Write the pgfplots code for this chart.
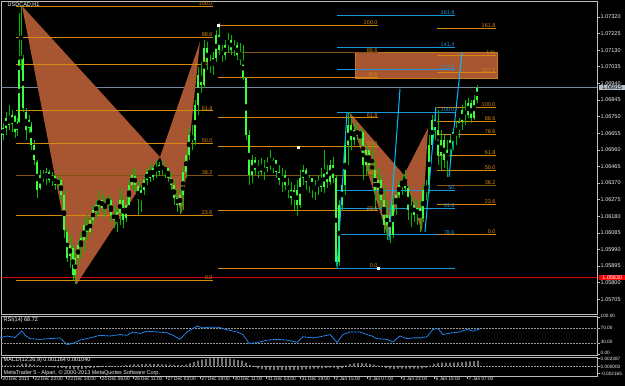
\documentclass[border=0pt]{standalone}
\usepackage{fontspec}
\setmainfont{Liberation Sans}
\usepackage{pgfplots}
\usepackage{pgfplotstable}
\pgfplotsset{compat=1.18}
\definecolor{fibo}{RGB}{215,135,15}
\definecolor{fibodark}{RGB}{130,85,20}
\definecolor{fibblue}{RGB}{30,150,220}
\definecolor{zz}{RGB}{0,190,255}
\definecolor{pat}{RGB}{168,86,50}
\definecolor{cwick}{RGB}{0,185,0}
\definecolor{cbody}{RGB}{60,255,60}
\definecolor{frame}{RGB}{190,190,190}
\definecolor{rsiblue}{RGB}{30,130,230}
\definecolor{bidgray}{RGB}{120,136,153}
\newcommand\lab{\fontsize{5.5}{6.5}\selectfont}
\newcommand\tlab{\fontsize{4.7}{5.5}\selectfont}

\pgfplotstableread{
x h l o c
3 1.06714 1.06616 1.06645 1.06685
6 1.06777 1.06645 1.06685 1.06742
9 1.06816 1.06673 1.06742 1.06702
12 1.06788 1.06662 1.06708 1.06759
15 1.06759 1.06627 1.06754 1.06662
17 1.06742 1.06639 1.06673 1.06719
19 1.07343 1.06714 1.06719 1.07074
21 1.07383 1.07017 1.07074 1.07102
23 1.07102 1.06777 1.07085 1.06799
26 1.06799 1.06616 1.06777 1.06673
29 1.06759 1.06645 1.06685 1.06731
31 1.06719 1.06559 1.06708 1.06588
34 1.06616 1.06473 1.06588 1.06502
37 1.06502 1.06285 1.06491 1.06330
40 1.06445 1.06330 1.06342 1.06416
43 1.06445 1.06376 1.06416 1.06399
46 1.06456 1.06359 1.06399 1.06434
49 1.06445 1.06370 1.06434 1.06387
52 1.06434 1.06353 1.06387 1.06410
55 1.06422 1.06330 1.06410 1.06359
58 1.06410 1.06342 1.06365 1.06387
61 1.06399 1.06273 1.06387 1.06302
64 1.06330 1.06056 1.06302 1.06101
67 1.06113 1.05919 1.06090 1.05941
70 1.06073 1.05884 1.05953 1.06016
73 1.06016 1.05815 1.05999 1.05844
75 1.05987 1.05792 1.05844 1.05941
78 1.06044 1.05902 1.05941 1.06016
81 1.06090 1.05941 1.06004 1.06056
84 1.06170 1.05976 1.06044 1.06130
87 1.06188 1.06044 1.06130 1.06090
90 1.06176 1.06072 1.06090 1.06159
93 1.06244 1.06130 1.06159 1.06216
96 1.06273 1.06170 1.06205 1.06244
99 1.06330 1.06188 1.06239 1.06273
102 1.06302 1.06205 1.06273 1.06227
105 1.06290 1.06176 1.06233 1.06256
108 1.06302 1.06216 1.06256 1.06285
111 1.06285 1.06148 1.06273 1.06188
114 1.06244 1.06113 1.06193 1.06159
117 1.06227 1.06090 1.06148 1.06205
120 1.06342 1.06130 1.06199 1.06273
123 1.06302 1.06113 1.06273 1.06159
126 1.06285 1.06148 1.06170 1.06244
129 1.06387 1.06244 1.06244 1.06359
132 1.06445 1.06330 1.06359 1.06416
135 1.06456 1.06319 1.06410 1.06359
138 1.06387 1.06188 1.06353 1.06273
141 1.06359 1.06205 1.06273 1.06330
144 1.06416 1.06302 1.06330 1.06387
147 1.06456 1.06359 1.06387 1.06434
150 1.06485 1.06376 1.06434 1.06399
153 1.06473 1.06387 1.06405 1.06456
156 1.06502 1.06399 1.06456 1.06434
159 1.06491 1.06410 1.06434 1.06473
162 1.06502 1.06416 1.06468 1.06445
165 1.06473 1.06399 1.06445 1.06456
168 1.06456 1.06376 1.06456 1.06399
171 1.06434 1.06330 1.06399 1.06359
174 1.06387 1.06244 1.06359 1.06285
177 1.06330 1.06205 1.06285 1.06244
180 1.06342 1.06193 1.06244 1.06302
183 1.06462 1.06216 1.06302 1.06434
186 1.06559 1.06399 1.06434 1.06530
189 1.06685 1.06502 1.06530 1.06645
192 1.06702 1.06559 1.06645 1.06616
195 1.06845 1.06588 1.06616 1.06816
198 1.07034 1.06759 1.06816 1.06988
201 1.07063 1.06885 1.06988 1.06931
204 1.07188 1.06914 1.06931 1.07142
207 1.07177 1.07017 1.07142 1.07063
210 1.07102 1.06999 1.07063 1.07045
213 1.07120 1.06988 1.07045 1.07085
216 1.07245 1.07063 1.07085 1.07216
219 1.07286 1.07102 1.07216 1.07131
222 1.07160 1.07063 1.07131 1.07102
225 1.07188 1.07074 1.07102 1.07160
228 1.07228 1.07120 1.07160 1.07188
231 1.07216 1.07102 1.07188 1.07131
234 1.07188 1.07097 1.07131 1.07160
237 1.07177 1.07074 1.07160 1.07102
240 1.07171 1.07045 1.07102 1.07074
243 1.07160 1.06959 1.07074 1.06977
246 1.06977 1.06616 1.06971 1.06645
249 1.06673 1.06359 1.06645 1.06416
252 1.06530 1.06370 1.06416 1.06502
255 1.06519 1.06416 1.06502 1.06445
258 1.06502 1.06399 1.06445 1.06473
261 1.06513 1.06416 1.06473 1.06434
264 1.06502 1.06387 1.06434 1.06456
267 1.06519 1.06434 1.06456 1.06491
270 1.06559 1.06445 1.06491 1.06473
273 1.06513 1.06428 1.06473 1.06502
276 1.06502 1.06399 1.06502 1.06434
279 1.06473 1.06359 1.06434 1.06387
282 1.06456 1.06319 1.06387 1.06416
285 1.06445 1.06330 1.06416 1.06359
288 1.06399 1.06285 1.06359 1.06330
291 1.06376 1.06244 1.06330 1.06285
294 1.06359 1.06216 1.06285 1.06330
297 1.06387 1.06182 1.06330 1.06244
300 1.06445 1.06227 1.06244 1.06399
303 1.06473 1.06359 1.06399 1.06445
306 1.06456 1.06330 1.06445 1.06376
309 1.06416 1.06313 1.06376 1.06399
312 1.06399 1.06285 1.06399 1.06330
315 1.06387 1.06273 1.06330 1.06359
318 1.06416 1.06302 1.06359 1.06387
321 1.06456 1.06319 1.06387 1.06347
324 1.06559 1.06313 1.06347 1.06434
327 1.06473 1.06342 1.06434 1.06376
330 1.06502 1.06359 1.06376 1.06473
333 1.06519 1.06370 1.06473 1.06399
336 1.06416 1.05896 1.06399 1.05919
339 1.06273 1.05896 1.05919 1.06244
342 1.06399 1.06216 1.06244 1.06359
345 1.06616 1.06302 1.06359 1.06588
348 1.06777 1.06473 1.06588 1.06702
351 1.06742 1.06559 1.06702 1.06616
354 1.06719 1.06588 1.06616 1.06673
357 1.06702 1.06616 1.06673 1.06645
360 1.06685 1.06588 1.06645 1.06662
363 1.06673 1.06387 1.06662 1.06473
366 1.06588 1.06416 1.06473 1.06559
369 1.06559 1.06434 1.06559 1.06473
372 1.06605 1.06387 1.06473 1.06445
375 1.06502 1.06216 1.06445 1.06330
378 1.06456 1.06256 1.06330 1.06387
381 1.06416 1.06216 1.06387 1.06273
384 1.06359 1.06084 1.06273 1.06130
387 1.06273 1.06044 1.06130 1.06188
390 1.06244 1.06027 1.06188 1.06073
393 1.06285 1.06056 1.06073 1.06244
396 1.06330 1.06188 1.06244 1.06302
399 1.06387 1.06285 1.06302 1.06359
402 1.06416 1.06302 1.06359 1.06387
405 1.06445 1.06319 1.06387 1.06342
408 1.06359 1.06159 1.06342 1.06216
411 1.06302 1.06119 1.06216 1.06244
414 1.06285 1.06148 1.06244 1.06188
417 1.06273 1.06130 1.06188 1.06227
420 1.06273 1.06090 1.06227 1.06170
423 1.06359 1.06148 1.06170 1.06330
426 1.06387 1.06273 1.06330 1.06359
429 1.06645 1.06313 1.06359 1.06588
432 1.06759 1.06559 1.06588 1.06731
435 1.06805 1.06616 1.06731 1.06673
438 1.06788 1.06473 1.06673 1.06530
441 1.06673 1.06445 1.06530 1.06616
444 1.06645 1.06456 1.06616 1.06502
447 1.06616 1.06405 1.06502 1.06559
450 1.06645 1.06502 1.06559 1.06616
453 1.06685 1.06559 1.06616 1.06662
456 1.06719 1.06588 1.06662 1.06685
459 1.06742 1.06628 1.06685 1.06719
462 1.06816 1.06673 1.06719 1.06788
465 1.06845 1.06702 1.06788 1.06759
468 1.06856 1.06742 1.06759 1.06828
471 1.06845 1.06714 1.06828 1.06742
474 1.06874 1.06731 1.06742 1.06845
477 1.06931 1.06828 1.06845 1.06914
}\candles

\pgfplotstableread{
x r
0 45
7 50
15 46
22 64
25 52
30 43
40 41
50 43
60 45
67 27
73 30
80 39
90 45
100 52
110 50
120 54
127 52
133 61
140 57
147 63
157 61
167 59
173 52
180 41
187 61
197 77
203 72
210 74
218 74
227 67
237 61
243 54
249 30
257 32
267 39
277 41
287 39
297 33
303 48
313 45
320 48
327 52
330 54
337 33
343 54
350 61
360 61
367 54
372 50
377 43
387 41
393 34
400 50
407 43
413 45
420 45
427 48
433 68
438 70
443 54
450 58
460 61
467 68
473 63
477 67
480 69
}\rsi

\pgfplotstableread{
x m
2 0.0002
6 0.0002
10 0.0001
14 0.0001
18 0.0003
22 0.0006
26 0.0007
30 0.0006
34 0.0004
38 0.0002
42 0.00005
46 -0.0002
50 -0.0003
54 -0.0004
58 -0.0005
62 -0.0006
66 -0.0008
70 -0.0009
74 -0.0010
78 -0.0010
82 -0.0009
86 -0.0008
90 -0.0006
94 -0.0005
98 -0.0004
102 -0.0003
106 -0.0002
110 -0.0002
114 -0.0001
118 -0.0001
122 0.0001
126 0.0003
130 0.0004
134 0.0005
138 0.0005
142 0.0006
146 0.0006
150 0.0006
154 0.0006
158 0.0006
162 0.0005
166 0.0005
170 0.0004
174 0.0003
178 0.0003
182 0.0003
186 0.0004
190 0.0008
194 0.0012
198 0.0016
202 0.0019
206 0.0021
210 0.0023
214 0.0024
218 0.0024
222 0.0024
226 0.0023
230 0.0022
234 0.0020
238 0.0018
242 0.0016
246 0.0010
250 0.0003
254 -0.0003
258 -0.0007
262 -0.0009
266 -0.0011
270 -0.0012
274 -0.0012
278 -0.0012
282 -0.0012
286 -0.0012
290 -0.0012
294 -0.0012
298 -0.0012
302 -0.0011
306 -0.0010
310 -0.0009
314 -0.0008
318 -0.0008
322 -0.0007
326 -0.0006
330 -0.0005
334 -0.0005
338 -0.0009
342 -0.0006
346 0.0002
350 0.0006
354 0.0008
358 0.0009
362 0.0009
366 0.0008
370 0.0006
374 0.0004
378 0.0001
382 -0.0003
386 -0.0006
390 -0.0008
394 -0.0009
398 -0.0008
402 -0.0008
406 -0.0008
410 -0.0008
414 -0.0008
418 -0.0008
422 -0.0007
426 -0.0005
430 0.0001
434 0.0006
438 0.0009
442 0.0010
446 0.0010
450 0.0010
454 0.0010
458 0.0011
462 0.0012
466 0.0013
470 0.0014
474 0.0015
478 0.0016
}\macd

\pgfplotsset{
  mt/.style={scale only axis, width=596pt, xmin=1, xmax=597,
    axis line style={frame, line width=0.8pt},
    tick style={frame, line width=0.6pt},
    tick align=outside, major tick length=2.5pt,
    ytick pos=right, yticklabel pos=right,
    scaled y ticks=false, scaled x ticks=false,
    xtick=\empty,
    yticklabel style={font=\lab, text=white!88!gray, inner sep=1pt},
    clip=false},
}
\tikzset{
  fl/.style={anchor=south east, inner sep=0.3pt, font=\lab, text=fibo},
  bl/.style={anchor=south east, inner sep=0.3pt, font=\lab, text=fibblue},
}

\begin{document}
\begin{tikzpicture}[x=1pt,y=1pt]
\useasboundingbox (0,0) rectangle (625,-386);
\fill[black] (0,0) rectangle (625,-386);

% ---------------- main price panel ----------------
\begin{axis}[mt, at={(1pt,-1pt)}, anchor=north west, height=313pt,
  ymin=1.05621, ymax=1.07411,
  ytick={1.05705,1.05800,1.05895,1.05990,1.06085,1.06180,1.06275,1.06370,1.06465,1.06560,1.06655,1.06750,1.06845,1.06940,1.07035,1.07130,1.07225,1.07320},
  yticklabels={1.05705,1.05800,1.05895,1.05990,1.06085,1.06180,1.06275,1.06370,1.06465,1.06560,1.06655,1.06750,1.06845,1.06940,1.07035,1.07130,1.07225,1.07320}]

% bid / ask lines
\addplot[bidgray, line width=0.6pt] coordinates {(1,1.06915)(597,1.06915)};
\addplot[red!85!black, line width=0.6pt] coordinates {(1,1.05830)(597,1.05830)};

% rectangle and harmonic triangles
\addplot[fill=pat, draw=fibo!70!pat, line width=0.6pt] coordinates {(355,1.07120)(497,1.07120)(497,1.06971)(355,1.06971)} -- cycle;
\addplot[fill=pat, draw=none] coordinates {(22,1.07383)(76,1.05787)(160,1.06519)} -- cycle;
\addplot[fill=pat, draw=none] coordinates {(160,1.06519)(182,1.06193)(200,1.07177)} -- cycle;
\addplot[fill=pat, draw=none] coordinates {(349,1.06777)(388,1.06056)(404,1.06416)} -- cycle;
\addplot[fill=pat, draw=none] coordinates {(404,1.06416)(422,1.06090)(428,1.06685)} -- cycle;

% left fibo
\addplot[fibo, line width=0.7pt] coordinates {(16,1.07383)(213,1.07383)};
\addplot[fibo, line width=0.7pt] coordinates {(16,1.07204)(213,1.07204)};
\addplot[fibo, line width=0.7pt] coordinates {(16,1.07047)(213,1.07047)};
\addplot[fibo, line width=0.7pt] coordinates {(16,1.06784)(213,1.06784)};
\addplot[fibo, line width=0.7pt] coordinates {(16,1.06599)(213,1.06599)};
\addplot[fibodark, line width=0.7pt] coordinates {(16,1.06414)(213,1.06414)};
\addplot[fibo, line width=0.7pt] coordinates {(16,1.06185)(213,1.06185)};
\addplot[fibo, line width=0.7pt] coordinates {(16,1.05815)(213,1.05815)};
% middle fibo
\addplot[fibo, line width=0.7pt] coordinates {(218,1.07274)(378,1.07274)};
\addplot[fibodark, line width=0.7pt] coordinates {(218,1.07116)(378,1.07116)};
\addplot[fibo, line width=0.7pt] coordinates {(218,1.06977)(378,1.06977)};
\addplot[fibo, line width=0.7pt] coordinates {(218,1.06743)(378,1.06743)};
\addplot[fibo, line width=0.7pt] coordinates {(218,1.06579)(378,1.06579)};
\addplot[fibodark, line width=0.7pt] coordinates {(218,1.06415)(378,1.06415)};
\addplot[fibo, line width=0.7pt] coordinates {(218,1.06212)(378,1.06212)};
\addplot[fibo, line width=0.7pt] coordinates {(218,1.05884)(378,1.05884)};
% blue fibo
\addplot[fibblue, line width=0.7pt] coordinates {(337,1.07328)(455,1.07328)};
\addplot[fibblue, line width=0.7pt] coordinates {(337,1.07146)(455,1.07146)};
\addplot[fibblue, line width=0.7pt] coordinates {(337,1.07019)(455,1.07019)};
\addplot[fibblue, line width=0.7pt] coordinates {(337,1.06777)(455,1.06777)};
\addplot[fibblue, line width=0.7pt] coordinates {(337,1.06330)(455,1.06330)};
\addplot[fibblue, line width=0.7pt] coordinates {(337,1.06225)(455,1.06225)};
\addplot[fibblue, line width=0.7pt] coordinates {(337,1.06075)(455,1.06075)};
\addplot[fibblue, line width=0.7pt] coordinates {(337,1.05884)(455,1.05884)};
% right fibo
\addplot[fibo, line width=0.7pt] coordinates {(437,1.07254)(496,1.07254)};
\addplot[fibo, line width=0.7pt] coordinates {(437,1.07103)(496,1.07103)};
\addplot[fibo, line width=0.7pt] coordinates {(437,1.07002)(496,1.07002)};
\addplot[fibo, line width=0.7pt] coordinates {(437,1.06805)(496,1.06805)};
\addplot[fibo, line width=0.7pt] coordinates {(437,1.06722)(496,1.06722)};
\addplot[fibo, line width=0.7pt] coordinates {(437,1.06650)(496,1.06650)};
\addplot[fibo, line width=0.7pt] coordinates {(437,1.06528)(496,1.06528)};
\addplot[fibo, line width=0.7pt] coordinates {(437,1.06442)(496,1.06442)};
\addplot[fibodark, line width=0.7pt] coordinates {(437,1.06356)(496,1.06356)};
\addplot[fibo, line width=0.7pt] coordinates {(437,1.06250)(496,1.06250)};
\addplot[fibo, line width=0.7pt] coordinates {(437,1.06079)(496,1.06079)};

% candles: wicks then bodies
\addplot[only marks, mark=none, error bars/.cd, y dir=both, y explicit, error mark=none,
  error bar style={draw=cwick, line width=0.8pt}]
  table[x=x, y expr={0.5*(\thisrow{h}+\thisrow{l})}, y error expr={0.5*(\thisrow{h}-\thisrow{l})}] {\candles};
\addplot[only marks, mark=none, error bars/.cd, y dir=both, y explicit, error mark=none,
  error bar style={draw=cbody, line width=2.1pt}]
  table[x=x, y expr={0.5*(\thisrow{o}+\thisrow{c})}, y error expr={0.5*abs(\thisrow{o}-\thisrow{c})}] {\candles};

% projection lines
\addplot[zz, line width=1pt] coordinates {(337,1.05884)(347,1.06777)};
\addplot[zz, line width=1pt] coordinates {(389,1.06044)(400,1.06908)};
\addplot[zz, line width=1pt] coordinates {(425,1.06090)(436,1.06805)};
\addplot[zz, line width=1pt] coordinates {(449,1.06405)(462,1.07120)};
\addplot[only marks, mark=square*, mark size=1pt, white] coordinates {(218,1.07274)(298,1.06576)(378,1.05884)};

% labels
\node[anchor=north west, font=\lab, text=white, inner sep=0.5pt] at (axis cs:7,1.07405) {USDCAD,H1};
\node[fl] at (axis cs:213,1.07383) {100.0};
\node[fl] at (axis cs:213,1.07204) {88.6};
\node[fl] at (axis cs:213,1.07047) {78.6};
\node[fl] at (axis cs:213,1.06784) {61.8};
\node[fl] at (axis cs:213,1.06599) {50.0};
\node[fl] at (axis cs:213,1.06414) {38.2};
\node[fl] at (axis cs:213,1.06185) {23.6};
\node[fl] at (axis cs:213,1.05815) {0.0};
\node[fl] at (axis cs:378,1.07274) {100.0};
\node[fl] at (axis cs:378,1.07116) {88.6};
\node[fl] at (axis cs:378,1.06977) {78.6};
\node[fl] at (axis cs:378,1.06743) {61.8};
\node[fl] at (axis cs:378,1.06579) {50.0};
\node[fl] at (axis cs:378,1.06415) {38.2};
\node[fl] at (axis cs:378,1.06212) {23.6};
\node[fl] at (axis cs:378,1.05884) {0.0};
\node[bl] at (axis cs:455,1.07328) {161.8};
\node[bl] at (axis cs:455,1.07146) {141.4};
\node[bl] at (axis cs:455,1.07019) {127.2};
\node[bl] at (axis cs:455,1.06777) {100.0};
\node[bl] at (axis cs:455,1.06330) {50};
\node[bl] at (axis cs:455,1.06225) {61.8};
\node[bl] at (axis cs:455,1.06075) {78.6};
\node[fl] at (axis cs:496,1.07254) {161.8};
\node[fl] at (axis cs:496,1.07103) {141};
\node[fl] at (axis cs:496,1.07002) {127.2};
\node[fl] at (axis cs:496,1.06805) {100.0};
\node[fl] at (axis cs:496,1.06722) {88.6};
\node[fl] at (axis cs:496,1.06650) {78.6};
\node[fl] at (axis cs:496,1.06528) {61.8};
\node[fl] at (axis cs:496,1.06442) {50.0};
\node[fl] at (axis cs:496,1.06356) {38.2};
\node[fl] at (axis cs:496,1.06250) {23.6};
\node[fl] at (axis cs:496,1.06079) {0.0};
\node[anchor=west, fill=bidgray!55!white, text=black, font=\lab, inner sep=0.8pt, minimum width=26pt] at (axis cs:599,1.06915) {1.06915};
\node[anchor=west, fill=red, text=white, font=\lab, inner sep=0.8pt, minimum width=26pt] at (axis cs:599,1.05830) {1.05830};
\end{axis}

% ---------------- RSI panel ----------------
\begin{axis}[mt, at={(1pt,-316pt)}, anchor=north west, height=39pt,
  ymin=-1.2, ymax=104.1, ytick={0,30,70,100}, yticklabels={0.00,30.00,70.00,100.00},
  yticklabel style={font=\tlab, yshift=1.2pt}]
\addplot[white!60!black, densely dotted, line width=0.5pt] coordinates {(1,70)(597,70)};
\addplot[white!60!black, densely dotted, line width=0.5pt] coordinates {(1,30)(597,30)};
\addplot[rsiblue, line width=0.8pt] table[x=x, y=r] {\rsi};
\node[anchor=north west, font=\lab, text=white, inner sep=0.5pt] at (axis cs:3,103) {RSI(14) 68.72};
\end{axis}

% ---------------- MACD panel ----------------
\begin{axis}[mt, at={(1pt,-357pt)}, anchor=north west, height=19pt,
  ymin=-0.00304, ymax=0.00273, ytick={-0.002165,0,0.002387}, yticklabels={-0.002165,0.000000,0.002387},
  yticklabel style={font=\tlab, inner sep=0.3pt, xshift=0.7pt, yshift=-0.8pt},
  xtick={1,33,66,100,133,166,200,233,266,300,334,367,401,434,467},
  xticklabels={20 Dec 2013,22 Dec 22:00,23 Dec 14:00,24 Dec 06:00,26 Dec 11:00,27 Dec 03:00,27 Dec 19:00,30 Dec 11:00,31 Dec 03:00,31 Dec 19:00,2 Jan 15:00,3 Jan 07:00,3 Jan 23:00,6 Jan 15:00,7 Jan 07:00},
  xtick pos=bottom,
  xticklabel style={anchor=north west, font=\tlab, text=white!88!gray, inner sep=0.5pt, xshift=1pt, yshift=1.5pt}]
\addplot[white!60!black, densely dotted, line width=0.5pt] coordinates {(1,0)(597,0)};
\addplot[ybar, bar width=1.3pt, fill=white!70!black, draw=none] table[x=x, y=m] {\macd};
\node[anchor=north west, font=\lab, text=white, inner sep=0.5pt] at (axis cs:3,0.0027) {MACD(12,26,9) 0.001164 0.001040};
\node[anchor=south west, font=\lab, text=white!85!gray, inner sep=0.5pt] at (axis cs:3,-0.0030) {MetaTrader 5 - Alpari, © 2000-2013 MetaQuotes Software Corp.};
\end{axis}
\end{tikzpicture}
\end{document}
